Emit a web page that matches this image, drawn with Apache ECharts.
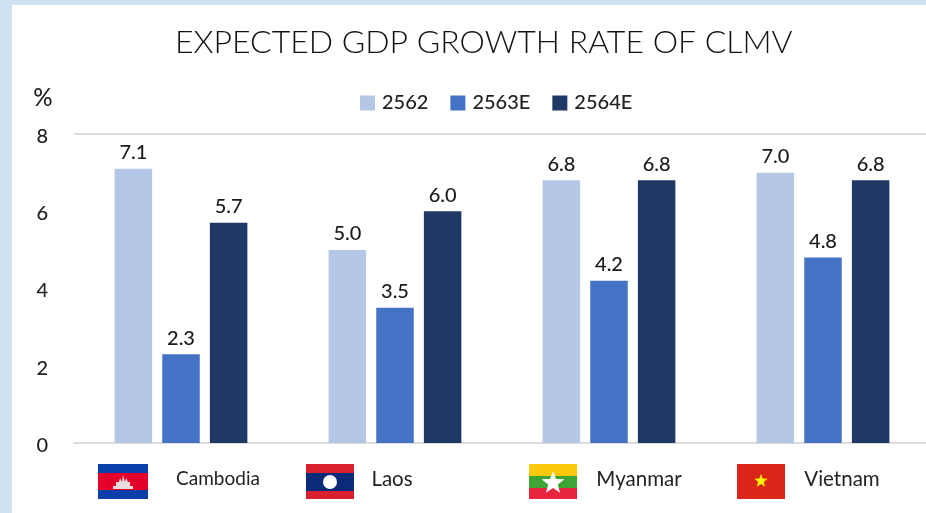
<!DOCTYPE html>
<html><head><meta charset="utf-8">
<style>
html,body{margin:0;padding:0;width:926px;height:513px;overflow:hidden;background:#cfe2f3}
#panel{position:absolute;left:12px;top:5px;width:914px;height:508px;background:#fff}
#chart{position:absolute;left:0;top:0;width:926px;height:513px}
</style>
<script src="https://cdn.jsdelivr.net/npm/echarts@6/dist/echarts.min.js"></script>
</head><body><div id="panel"></div><div id="chart"></div>
<script>
const titleText = 'EXPECTED GDP GROWTH RATE OF CLMV';
const categories = ['Cambodia', 'Laos', 'Myanmar', 'Vietnam'];
const seriesNames = ['2562', '2563E', '2564E'];
const values2562 = [7.1, 5.0, 6.8, 7.0];
const values2563E = [2.3, 3.5, 4.2, 4.8];
const values2564E = [5.7, 6.0, 6.8, 6.8];
const colors = ['#b4c7e7', '#4472c4', '#203864'];
const yTicks = [0, 2, 4, 6, 8];
const labelOffsets = {Cambodia: 37, Laos: -3, Myanmar: 30, Vietnam: 19};
const labelSizes = {Cambodia: 19, Laos: 20.5, Myanmar: 20.5, Vietnam: 20.5};

function star(cx, cy, R) {
  const pts = [];
  for (let i = 0; i < 10; i++) {
    const r = i % 2 ? R * 0.42 : R, a = -Math.PI / 2 + i * Math.PI / 5;
    pts.push([cx + r * Math.cos(a), cy + r * Math.sin(a)]);
  }
  return pts;
}
const rect = (x, y, width, height, fill) => ({type: 'rect', shape: {x, y, width, height}, style: {fill}, silent: true});
const flags = [
  rect(98, 464, 50, 35, '#0a3ea8'), rect(98, 473, 50, 17, '#e4002b'),
  {type: 'polygon', shape: {points: [[113,489],[113,486],[116,486],[116,482],[119,482],[120,478],[122,482],[123,475],[125,482],[126,478],[128,482],[130,482],[130,486],[133,486],[133,489]]}, style: {fill: '#e8dcdc'}, silent: true},
  rect(306, 464, 48, 35, '#d9202f'), rect(306, 473, 48, 18, '#0b2a78'),
  {type: 'circle', shape: {cx: 330, cy: 482, r: 7}, style: {fill: '#fff'}, silent: true},
  rect(529, 464, 48, 12, '#fcc80a'), rect(529, 476, 48, 12, '#3ea535'), rect(529, 488, 48, 11, '#e8253f'),
  {type: 'polygon', shape: {points: star(553, 483, 12)}, style: {fill: '#fff'}, silent: true},
  rect(737, 464, 48, 35, '#da2518'),
  {type: 'polygon', shape: {points: star(761, 481, 7)}, style: {fill: '#fff200'}, silent: true}
];

const rich = {};
categories.forEach(c => {
  const o = labelOffsets[c];
  rich[c] = {fontFamily: 'Lato', fontSize: labelSizes[c], color: '#222',
    padding: o >= 0 ? [0, 0, 0, 2 * o] : [0, -2 * o, 0, 0]};
});

const labelCfg = {show: true, position: 'top', distance: 6, fontFamily: 'Lato', fontWeight: 500, fontSize: 20, color: '#1a1a1a',
  formatter: p => p.value.toFixed(1)};
const mk = (name, data, color) => ({name, type: 'bar', data, barWidth: 37.5, barGap: '27%',
  itemStyle: {color}, label: labelCfg});

const chart = echarts.init(document.getElementById('chart'), null, {renderer: 'canvas'});
chart.setOption({
  animation: false,
  backgroundColor: 'transparent',
  title: {text: titleText, left: 175, top: 27, padding: 0,
    textStyle: {fontFamily: 'Lato', fontWeight: 300, fontSize: 32, color: '#111'}},
  legend: {left: 360, top: 93, padding: 0, itemWidth: 15, itemHeight: 15, itemGap: 22,
    data: seriesNames, icon: 'rect',
    textStyle: {fontFamily: 'Lato', fontWeight: 500, fontSize: 20, color: '#222', padding: [0, 0, 0, 2]}},
  grid: {left: 74, top: 134, right: -4, height: 309, outerBoundsMode: 'none'},
  xAxis: {type: 'category', data: categories,
    axisLine: {lineStyle: {color: '#dcdcdc', width: 2}}, axisTick: {show: false},
    axisLabel: {margin: 26, interval: 0, rich, formatter: v => `{${v}|${v}}`}},
  yAxis: {type: 'value', min: yTicks[0], max: yTicks[yTicks.length - 1], interval: 2,
    name: '%', nameLocation: 'end', nameGap: 24,
    nameTextStyle: {fontFamily: 'Lato', fontWeight: 500, fontSize: 24, color: '#222', align: 'center', padding: [0, 62, 0, 0]},
    axisLine: {show: false}, axisTick: {show: false},
    axisLabel: {margin: 26, formatter: v => `{t|${v}}`,
      rich: {t: {fontFamily: 'Lato', fontWeight: 500, fontSize: 20, color: '#222', padding: [5, 0, 0, 0]}}},
    splitLine: {lineStyle: {width: 2, color: ['transparent', 'transparent', 'transparent', 'transparent', '#dcdcdc']}}},
  series: [mk(seriesNames[0], values2562, colors[0]), mk(seriesNames[1], values2563E, colors[1]), mk(seriesNames[2], values2564E, colors[2])],
  graphic: flags
});
</script></body></html>
